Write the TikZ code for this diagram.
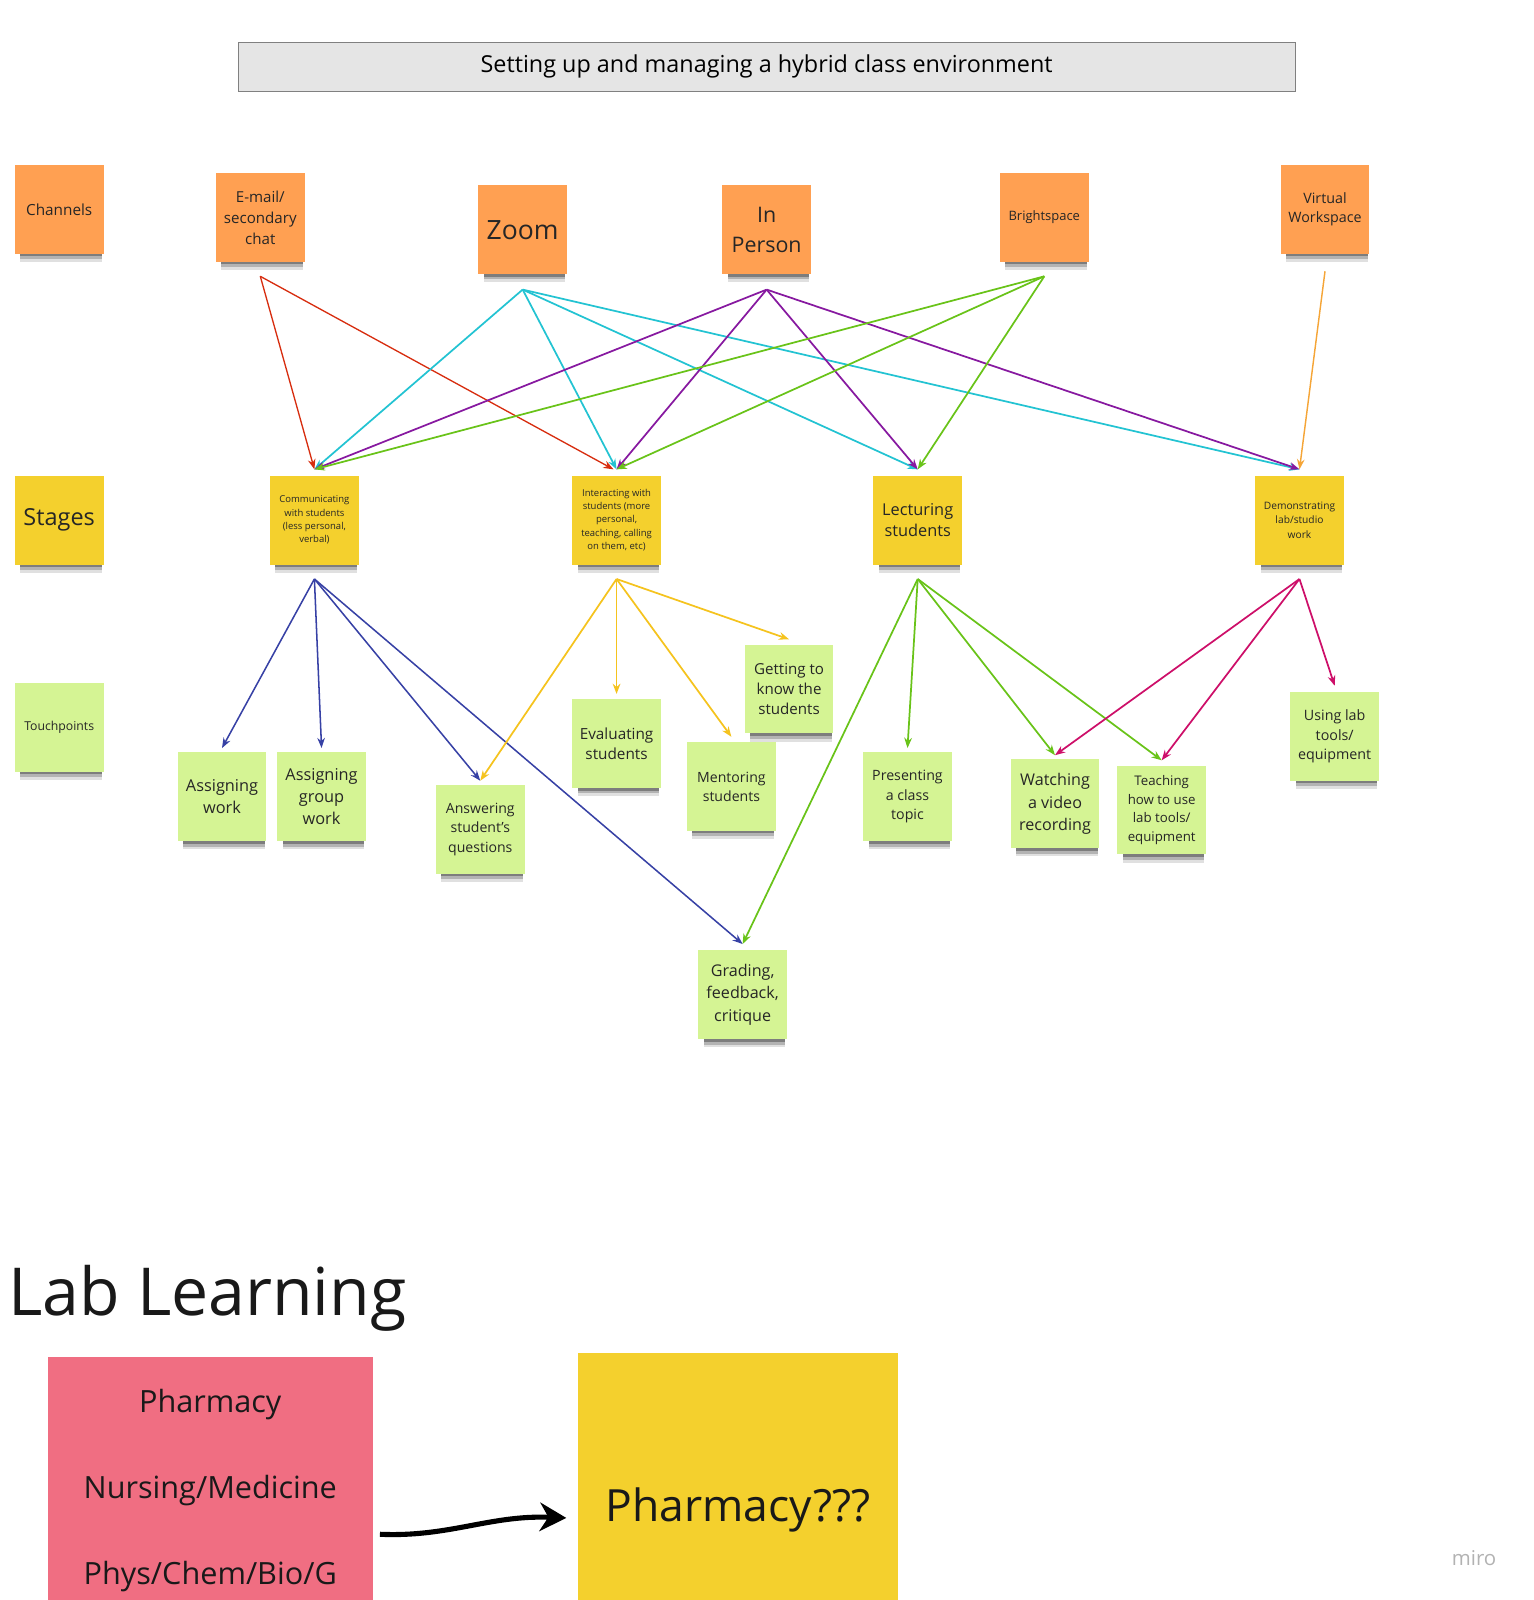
\documentclass[tikz,border=0pt]{standalone}
\usepackage{fontspec}
\setmainfont{Open Sans}
\usetikzlibrary{arrows.meta, shadows}
\definecolor{channelfill}{RGB}{255,160,82}
\definecolor{stagefill}{RGB}{244,208,45}
\definecolor{touchfill}{RGB}{213,244,148}
\definecolor{fieldfill}{RGB}{240,110,130}
\definecolor{emailline}{RGB}{215,45,15}
\definecolor{zoomline}{RGB}{35,195,210}
\definecolor{personline}{RGB}{135,25,160}
\definecolor{brightline}{RGB}{105,195,25}
\definecolor{virtualline}{RGB}{245,165,55}
\definecolor{commline}{RGB}{55,65,165}
\definecolor{interactline}{RGB}{245,195,30}
\definecolor{lectureline}{RGB}{105,195,25}
\definecolor{demoline}{RGB}{205,15,105}
\newcommand{\notefont}[2]{\fontsize{#1pt}{#2pt}\selectfont}
\tikzstyle{sticky} = [rectangle, minimum width=87pt, minimum height=87pt, inner sep=2pt, align=center, text=black!85,
  drop shadow={shadow xshift=2pt, shadow yshift=-12.5pt, shadow scale=0.92, opacity=0.12, fill=black},
  drop shadow={shadow xshift=2pt, shadow yshift=-9.5pt, shadow scale=0.92, opacity=0.2, fill=black},
  drop shadow={shadow xshift=2pt, shadow yshift=-6.5pt, shadow scale=0.92, opacity=0.3, fill=black}]
\tikzstyle{channel} = [sticky, fill=channelfill]
\tikzstyle{stage} = [sticky, fill=stagefill]
\tikzstyle{touch} = [sticky, fill=touchfill]
\tikzstyle{arrow} = [line width=1.7pt,->,>={Stealth[length=10pt,width=7.5pt]}]

\begin{document}
\begin{tikzpicture}[x=1pt, y=-1pt]
\useasboundingbox (0,0) rectangle (1502.7,1567.4);

% Title
\node (title) [draw=black!50, fill=black!10, minimum width=1036pt, minimum height=48pt, font=\notefont{22.9}{30}] at (751,65) {Setting up and managing a hybrid class environment};

% Channels
\node (channels) [channel, font=\notefont{15}{20}] at (58,205) {Channels};
\node (email) [channel, font=\notefont{14.8}{20.5}] at (255,213) {E-mail/\\secondary\\chat};
\node (zoom) [channel, font=\notefont{26}{34}] at (512,225) {Zoom};
\node (inperson) [channel, font=\notefont{21}{29.5}] at (751,225) {In\\Person};
\node (brightspace) [channel, font=\notefont{12.7}{17}] at (1023,213) {Brightspace};
\node (virtual) [channel, font=\notefont{14}{19}] at (1298,205) {Virtual\\Workspace};

% Stages
\node (stages) [stage, font=\notefont{23}{31}] at (58,509.5) {Stages};
\node (comm) [stage, font=\notefont{9.3}{13}] at (308,509.5) {Communicating\\with students\\(less personal,\\verbal)};
\node (interact) [stage, font=\notefont{9.3}{13}] at (604,509.5) {Interacting with\\students (more\\personal,\\teaching, calling\\on them, etc)};
\node (lecture) [stage, font=\notefont{16}{21.5}] at (899,509.5) {Lecturing\\students};
\node (demo) [stage, font=\notefont{10}{14}] at (1273,509.5) {Demonstrating\\lab/studio\\work};

% Touchpoints
\node (touchpoints) [touch, font=\notefont{12}{16}] at (58,712.5) {Touchpoints};
\node (assignwork) [touch, font=\notefont{16}{21.5}] at (217.5,780.5) {Assigning\\work};
\node (groupwork) [touch, font=\notefont{16}{21.5}] at (315,780.5) {Assigning\\group\\work};
\node (answer) [touch, font=\notefont{13.8}{19}] at (470.5,812.5) {Answering\\student's\\questions};
\node (evaluate) [touch, font=\notefont{15}{20}] at (604,728.5) {Evaluating\\students};
\node (mentor) [touch, font=\notefont{13.8}{18.5}] at (716.5,770.5) {Mentoring\\students};
\node (knowstud) [touch, font=\notefont{14.8}{20}] at (773,675) {Getting to\\know the\\students};
\node (grading) [touch, font=\notefont{15.8}{22}] at (727.5,974.5) {Grading,\\feedback,\\critique};
\node (present) [touch, font=\notefont{13.9}{19}] at (889,780.5) {Presenting\\a class\\topic};
\node (video) [touch, font=\notefont{15.8}{22}] at (1033.5,787.5) {Watching\\a video\\recording};
\node (teachtools) [touch, font=\notefont{13}{18}] at (1138,793.5) {Teaching\\how to use\\lab tools/\\equipment};
\node (usetools) [touch, font=\notefont{14}{19}] at (1307.5,721.5) {Using lab\\tools/\\equipment};

% Channels to stages
\draw [arrow, emailline, line width=1.3pt] ([yshift=-14pt]email.south) -- ([yshift=6pt]comm.north);
\draw [arrow, emailline, line width=1.3pt] ([yshift=-14pt]email.south) -- ([xshift=-3pt,yshift=6pt]interact.north);
\draw [arrow, zoomline] ([yshift=-15pt]zoom.south) -- ([yshift=6pt]comm.north);
\draw [arrow, zoomline] ([yshift=-15pt]zoom.south) -- ([yshift=6pt]interact.north);
\draw [arrow, zoomline] ([yshift=-15pt]zoom.south) -- ([yshift=6pt]lecture.north);
\draw [arrow, zoomline] ([yshift=-15pt]zoom.south) -- ([yshift=6pt]demo.north);
\draw [arrow, personline] ([yshift=-15pt]inperson.south) -- ([yshift=6pt]comm.north);
\draw [arrow, personline] ([yshift=-15pt]inperson.south) -- ([yshift=6pt]interact.north);
\draw [arrow, personline] ([yshift=-15pt]inperson.south) -- ([yshift=6pt]lecture.north);
\draw [arrow, personline] ([yshift=-15pt]inperson.south) -- ([yshift=6pt]demo.north);
\draw [arrow, brightline] ([yshift=-14pt]brightspace.south) -- ([yshift=6pt]comm.north);
\draw [arrow, brightline] ([yshift=-14pt]brightspace.south) -- ([yshift=6pt]interact.north);
\draw [arrow, brightline] ([yshift=-14pt]brightspace.south) -- ([yshift=6pt]lecture.north);
\draw [arrow, virtualline, line width=1.4pt] ([yshift=-17pt]virtual.south) -- ([yshift=6pt]demo.north);

% Stages to touchpoints
\draw [arrow, commline, line width=1.5pt] ([yshift=-14pt]comm.south) -- ([yshift=4pt]assignwork.north);
\draw [arrow, commline, line width=1.5pt] ([yshift=-14pt]comm.south) -- ([yshift=4pt]groupwork.north);
\draw [arrow, commline, line width=1.5pt] ([yshift=-14pt]comm.south) -- ([yshift=4pt]answer.north);
\draw [arrow, commline, line width=1.5pt] ([yshift=-14pt]comm.south) -- ([yshift=6pt]grading.north);
\draw [arrow, interactline] ([yshift=-14pt]interact.south) -- ([yshift=4pt]answer.north);
\draw [arrow, interactline] ([yshift=-14pt]interact.south) -- ([yshift=5pt]evaluate.north);
\draw [arrow, interactline] ([yshift=-14pt]interact.south) -- ([yshift=5pt]mentor.north);
\draw [arrow, interactline] ([yshift=-14pt]interact.south) -- ([yshift=5pt]knowstud.north);
\draw [arrow, lectureline] ([yshift=-14pt]lecture.south) -- ([yshift=6pt]grading.north);
\draw [arrow, lectureline] ([yshift=-14pt]lecture.south) -- ([yshift=4pt]present.north);
\draw [arrow, lectureline] ([yshift=-14pt]lecture.south) -- ([yshift=4pt]video.north);
\draw [arrow, lectureline] ([yshift=-14pt]lecture.south) -- ([yshift=5pt]teachtools.north);
\draw [arrow, demoline] ([yshift=-14pt]demo.south) -- ([yshift=4pt]video.north);
\draw [arrow, demoline] ([yshift=-14pt]demo.south) -- ([yshift=5pt]teachtools.north);
\draw [arrow, demoline] ([yshift=-14pt]demo.south) -- ([yshift=6pt]usetools.north);

% Lab learning
\node (lablearning) [anchor=base west, inner sep=0pt, text=black!90, font=\notefont{64.8}{80}] at (8,1289) {Lab Learning};
\node (fields) [fill=fieldfill, minimum width=318pt, minimum height=262pt, align=center, text=black!90, font=\notefont{30}{42}] at (206,1460) {Pharmacy\\[42pt]Nursing/Medicine\\[42pt]Phys/Chem/Bio/G};
\node (pharm) [fill=stagefill, minimum width=314pt, minimum height=308pt, text=black!90, font=\notefont{43.5}{54}] at (723,1479) {Pharmacy???};
\draw [line width=5pt, -{Stealth[length=26pt,width=28pt]}] ([xshift=7pt,yshift=-43pt]fields.east) .. controls (440,1506) and (480,1484) .. ([xshift=-11pt,yshift=-8pt]pharm.west);

\node (miro) [text=black!30, font=\notefont{20}{24}] at (1444,1526) {miro};

\end{tikzpicture}
\end{document}
